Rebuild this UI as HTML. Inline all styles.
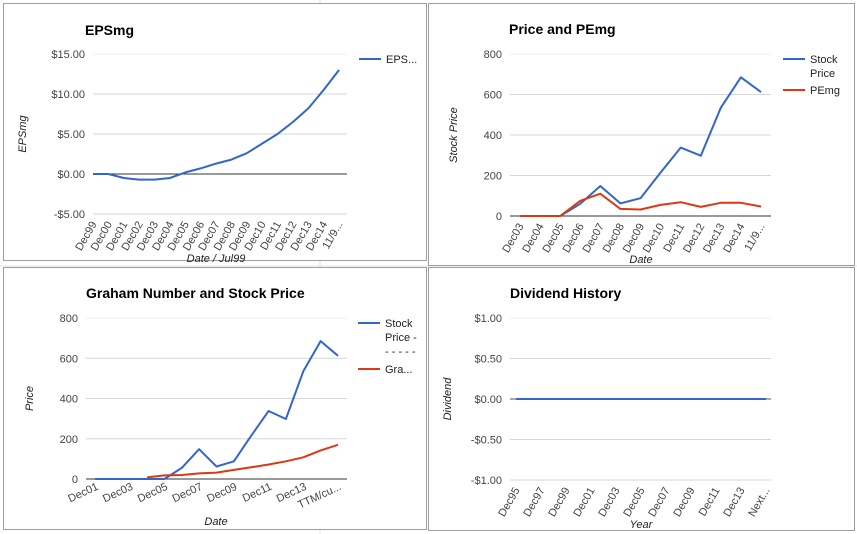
<!DOCTYPE html>
<html><head><meta charset="utf-8"><style>
body{margin:0;background:#fff;width:857px;height:534px;overflow:hidden;font-family:"Liberation Sans",Arial,sans-serif}
svg{position:absolute;left:0;top:0}
text{font-family:"Liberation Sans",Arial,sans-serif}
</style></head><body>
<svg id="s" width="857" height="534" viewBox="0 0 857 534">
<g stroke="#e2e2e2" stroke-width="1">
<line x1="320" y1="0" x2="320" y2="534"/><line x1="0" y1="266" x2="857" y2="266"/>
</g>
<rect x="3.5" y="3.5" width="423" height="257" fill="#fff" stroke="#9e9e9e"/>
<rect x="428.5" y="3.5" width="426" height="262" fill="#fff" stroke="#9e9e9e"/>
<rect x="3.5" y="267.5" width="423" height="262" fill="#fff" stroke="#9e9e9e"/>
<rect x="428.5" y="267.5" width="426" height="263" fill="#fff" stroke="#9e9e9e"/>
</svg>
<script>
// Chart 1: EPSmg
const epsCats=["Dec99","Dec00","Dec01","Dec02","Dec03","Dec04","Dec05","Dec06","Dec07","Dec08","Dec09","Dec10","Dec11","Dec12","Dec13","Dec14","11/9..."];
const epsVals=[0,0,-0.5,-0.7,-0.7,-0.5,0.2,0.7,1.3,1.8,2.6,3.8,5.0,6.5,8.2,10.5,13.0];
const epsTicks=[15,10,5,0,-5];
const epsTickLabels=["$15.00","$10.00","$5.00","$0.00","-$5.00"];
// Chart 2: Price and PEmg
const pCats=["Dec03","Dec04","Dec05","Dec06","Dec07","Dec08","Dec09","Dec10","Dec11","Dec12","Dec13","Dec14","11/9..."];
const pStock=[0,0,0,60,148,62,88,215,338,298,535,685,612];
const pPE=[0,0,0,75,110,35,32,55,68,45,65,65,47];
const pTicks=[800,600,400,200,0];
// Chart 3: Graham
const gCats=["Dec01","Dec02","Dec03","Dec04","Dec05","Dec06","Dec07","Dec08","Dec09","Dec10","Dec11","Dec12","Dec13","Dec14","TTM/cu..."];
const gStock=[0,0,0,0,0,55,148,62,88,215,338,298,535,685,612];
const gGraham=[null,null,null,8,18,20,28,32,45,58,72,88,108,142,170];
const gTicks=[800,600,400,200,0];
// Chart 4: Dividend
const dCats=["Dec95","Dec96","Dec97","Dec98","Dec99","Dec00","Dec01","Dec02","Dec03","Dec04","Dec05","Dec06","Dec07","Dec08","Dec09","Dec10","Dec11","Dec12","Dec13","Dec14","Next..."];
const dVals=[0,0,0,0,0,0,0,0,0,0,0,0,0,0,0,0,0,0,0,0,0];
const dTicks=[1,0.5,0,-0.5,-1];
const dTickLabels=["$1.00","$0.50","$0.00","-$0.50","-$1.00"];

const NS="http://www.w3.org/2000/svg";
const svg=document.getElementById('s');
function mk(tag,attrs,parent,txt){const e=document.createElementNS(NS,tag);for(const k in attrs)e.setAttribute(k,attrs[k]);if(txt!==undefined)e.textContent=txt;(parent||svg).appendChild(e);return e;}

function chart(o){
  const g=mk('g',{});
  
  
  const y=v=>o.y0+(v-o.vMax)/(o.vMin-o.vMax)*(o.y1-o.y0);
  const x=i=>o.lx0+i*(o.lx1-o.lx0)/(o.cats.length-1);
  const t=mk('text',{x:o.titleX,y:o.titleY,'font-size':14,'font-weight':'bold',fill:'#000'},g,o.title);
  
  
  o.ticks.forEach((v,i)=>{
    const gl=mk('line',{x1:o.px0,x2:o.px1,y1:y(v),y2:y(v),stroke:v===0?o.zeroColor:(i===0?'#eeeeee':'#d6d6d6'),'stroke-width':1},g);
    
    
    const tl=mk('text',{x:o.px0-8,y:y(v)+4,'font-size':11,fill:'#444','text-anchor':'end'},g,o.tickLabels?o.tickLabels[i]:String(v));
    
    
  });
  o.cats.forEach((c,i)=>{
    if(i%o.every!==0 && i!==o.cats.length-1) return;
    const xx=x(i)+4, yy=o.y1+10;
    const lb=mk('text',{x:xx,y:yy,'font-size':11,fill:'#444','text-anchor':'end',transform:`rotate(${o.rot} ${xx} ${yy})`},g,c);
    
    
  });
  const at=mk('text',{x:o.yTitleX,y:(o.y0+o.y1)/2,'font-size':11,'font-style':'italic',fill:'#222','text-anchor':'middle',transform:`rotate(-90 ${o.yTitleX} ${(o.y0+o.y1)/2})`},g,o.yTitle);
  
  
  const xt=mk('text',{x:o.xTitleX,y:o.xTitleY,'font-size':11,'font-style':'italic',fill:'#222','text-anchor':'middle'},g,o.xTitle);
  
  
  o.series.forEach(s=>{
    let d='';let started=false;
    s.vals.forEach((v,i)=>{if(v===null){started=false;return;}d+=(started?'L':'M')+x(i).toFixed(1)+' '+y(v).toFixed(1)+' ';started=true;});
    const p=mk('path',{d:d,fill:'none',stroke:s.color,'stroke-width':2,'stroke-linejoin':'round'},g);
    
    
  });
  o.legend.forEach(L=>{
    if(L.color){const ll=mk('line',{x1:L.x,x2:L.x+22,y1:L.y,y2:L.y,stroke:L.color,'stroke-width':2},g);
      
      }
    L.lines.forEach((tx,j)=>{const lt=mk('text',{x:L.x+27,y:L.y+4+j*14,'font-size':11,fill:'#222'},g,tx);
      
      });
  });
}

chart({name:'epsmg-chart',title:'EPSmg',titleX:85,titleY:35,cats:epsCats,ticks:epsTicks,tickLabels:epsTickLabels,vMax:15,vMin:-5,y0:54,y1:214,px0:93,px1:347,lx0:93,lx1:339,every:1,rot:-60,zeroColor:'#333',yTitle:'EPSmg',yTitleX:26,xTitle:'Date / Jul99',xTitleX:216,xTitleY:262,
  series:[{name:'eps-line',vals:epsVals,color:'#3366cc'}],
  legend:[{x:359,y:59,color:'#3366cc',lines:['EPS...']}]});
chart({name:'price-pemg-chart',title:'Price and PEmg',titleX:509,titleY:34,cats:pCats,ticks:pTicks,vMax:800,vMin:0,y0:54,y1:216,px0:510,px1:771,lx0:520,lx1:761,every:1,rot:-60,zeroColor:'#333',yTitle:'Stock Price',yTitleX:457,xTitle:'Date',xTitleX:641,xTitleY:263,
  series:[{name:'stock-price-line',vals:pStock,color:'#3366cc'},{name:'pemg-line',vals:pPE,color:'#dc3912'}],
  legend:[{x:783,y:59,color:'#3366cc',lines:['Stock','Price']},{x:783,y:90,color:'#dc3912',lines:['PEmg']}]});
chart({name:'graham-chart',title:'Graham Number and Stock Price',titleX:86,titleY:298,cats:gCats,ticks:gTicks,vMax:800,vMin:0,y0:318,y1:479,px0:86,px1:347,lx0:95,lx1:338,every:2,rot:-25,zeroColor:'#333',yTitle:'Price',yTitleX:33,xTitle:'Date',xTitleX:216,xTitleY:525,
  series:[{name:'stock-price-line',vals:gStock,color:'#3366cc'},{name:'graham-number-line',vals:gGraham,color:'#dc3912'}],
  legend:[{x:358,y:323,color:'#3366cc',lines:['Stock','Price -','- - - - -']},{x:358,y:369,color:'#dc3912',lines:['Gra...']}]});
chart({name:'dividend-chart',title:'Dividend History',titleX:510,titleY:298,cats:dCats,ticks:dTicks,tickLabels:dTickLabels,vMax:1,vMin:-1,y0:318,y1:480,px0:510,px1:771,lx0:516,lx1:766,every:2,rot:-60,zeroColor:'#555',yTitle:'Dividend',yTitleX:451,xTitle:'Year',xTitleX:641,xTitleY:528,
  series:[{name:'dividend-line',vals:dVals,color:'#3366cc'}],
  legend:[]});
</script>
</body></html>
